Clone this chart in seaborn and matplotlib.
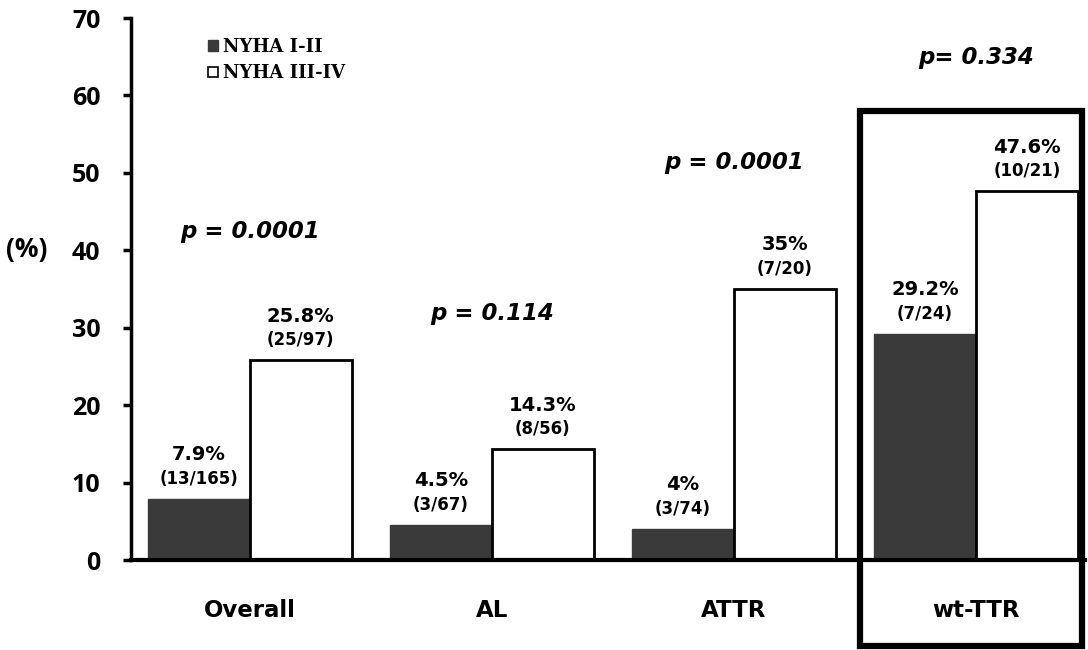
import matplotlib
matplotlib.use("Agg")
import matplotlib.pyplot as plt
import seaborn as sns
import pandas as pd
from matplotlib.patches import Rectangle, Patch

categories = ["Overall", "AL", "ATTR", "wt-TTR"]
groups = ["NYHA I-II", "NYHA III-IV"]
nyha_12 = [7.9, 4.5, 4.0, 29.2]
nyha_34 = [25.8, 14.3, 35.0, 47.6]
pct_12 = ["7.9%", "4.5%", "4%", "29.2%"]
pct_34 = ["25.8%", "14.3%", "35%", "47.6%"]
frac_12 = ["(13/165)", "(3/67)", "(3/74)", "(7/24)"]
frac_34 = ["(25/97)", "(8/56)", "(7/20)", "(10/21)"]
p_values = ["p = 0.0001", "p = 0.114", "p = 0.0001", "p= 0.334"]
p_y = [42.4, 31.9, 51.3, 64.9]
y_ticks = [0, 10, 20, 30, 40, 50, 60, 70]

df = pd.DataFrame({
    "category": categories * 2,
    "group": [groups[0]] * 4 + [groups[1]] * 4,
    "value": nyha_12 + nyha_34,
})

sns.set_style("white")
plt.rcParams["text.color"] = "black"
plt.rcParams["xtick.color"] = "black"
plt.rcParams["ytick.color"] = "black"
W, H = 1088, 650
fig = plt.figure(figsize=(W / 100, H / 100), dpi=100)
ax = fig.add_axes([131 / W, 1 - 560 / H, (1085 - 131) / W, (560 - 18) / H])

dark = "#3a3a3a"
sns.barplot(data=df, x="category", y="value", hue="group",
            palette={groups[0]: dark, groups[1]: "white"},
            width=0.843, gap=0, ax=ax, legend=False, saturation=1)

for i, bar in enumerate(ax.patches):
    if i >= 8:
        break
    if i < 4:
        bar.set_edgecolor(dark)
        bar.set_linewidth(1.0)
    else:
        bar.set_edgecolor("black")
        bar.set_linewidth(2.0)

ax.set_xlim(-0.49, 3.45)
ax.set_ylim(0, 70)
ax.set_yticks(y_ticks)
ax.set_yticklabels([str(t) for t in y_ticks], fontsize=18, fontweight="bold",
                   family="Open Sans", color="black")
ax.tick_params(axis="y", direction="out", length=6, width=2.5, pad=16, left=True)
ax.tick_params(axis="x", length=0, pad=28)
for lab in ax.get_xticklabels():
    lab.set_fontsize(16.5)
    lab.set_fontweight("bold")
    lab.set_family("DejaVu Sans")
    lab.set_color("black")
ax.set_xlabel("")
ax.set_ylabel("")
for s in ["top", "right"]:
    ax.spines[s].set_visible(False)
ax.spines["left"].set_linewidth(2.5)
ax.spines["bottom"].set_linewidth(3)
ax.spines["left"].set_color("black")
ax.spines["bottom"].set_color("black")

# value annotations
bars12 = ax.patches[:4]
bars34 = ax.patches[4:8]
for bars, pcts, fracs in [(bars12, pct_12, frac_12), (bars34, pct_34, frac_34)]:
    for b, pc, fr in zip(bars, pcts, fracs):
        xc = b.get_x() + b.get_width() / 2
        top = b.get_height()
        ax.annotate(fr, (xc, top), xytext=(0, 8), textcoords="offset points",
                    ha="center", va="bottom", fontsize=12, fontweight="bold",
                    family="DejaVu Sans", color="black")
        ax.annotate(pc, (xc, top), xytext=(0, 25), textcoords="offset points",
                    ha="center", va="bottom", fontsize=14, fontweight="bold",
                    family="DejaVu Sans", color="black")

for i, (pv, py) in enumerate(zip(p_values, p_y)):
    ax.text(i, py, pv, ha="center", va="center", fontsize=16.5,
            fontweight="bold", style="italic", family="DejaVu Sans", color="black")

fig.text(6 / W, 1 - 250 / H, "(%)", ha="left", va="center", fontsize=19,
         fontweight="bold", family="Open Sans", color="black")

handles = [Patch(facecolor=dark, edgecolor=dark, label=groups[0]),
           Patch(facecolor="white", edgecolor="black", linewidth=1.2, label=groups[1])]
leg = fig.legend(handles=handles, loc="upper left",
                 bbox_to_anchor=(192 / W, 1 - 22 / H), frameon=False,
                 handlelength=0.55, handleheight=0.55, handletextpad=0.25,
                 labelspacing=0.45,
                 prop={"family": "DejaVu Serif", "size": 13, "weight": "bold"})

# highlight box around wt-TTR
rect = Rectangle((860 / W, 1 - 646 / H), (1082 - 860) / W, (646 - 111) / H,
                 transform=fig.transFigure, fill=False, edgecolor="black",
                 linewidth=4.5, clip_on=False)
fig.patches.append(rect)

fig.savefig("out.png", dpi=100)
